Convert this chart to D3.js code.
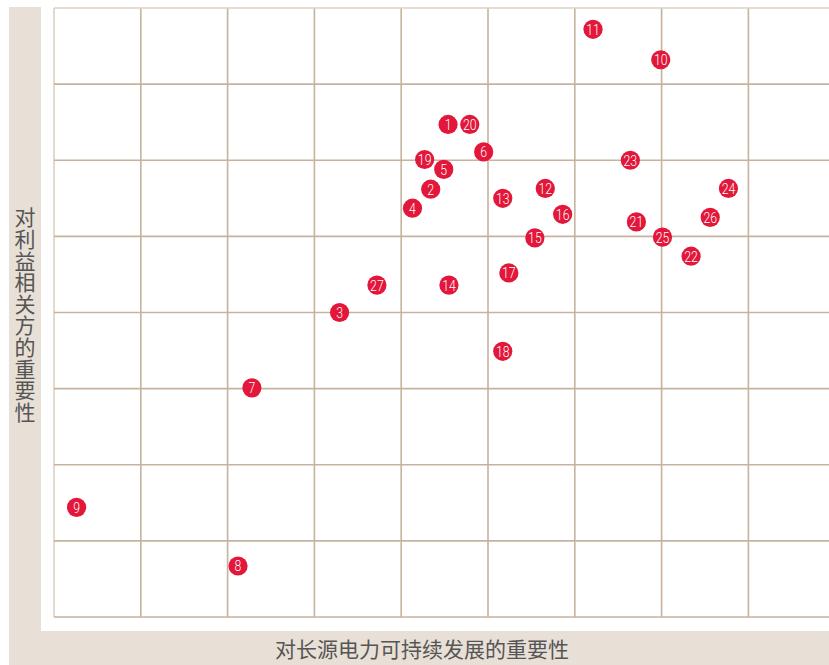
<!DOCTYPE html>
<html>
<head>
<meta charset="utf-8">
<script src="https://cdn.jsdelivr.net/npm/d3@7"></script>
<style>
  html, body { margin: 0; padding: 0; background: #fff; }
  #chart-container svg { display: block; }
</style>
</head>
<body>
<div id="chart-container"></div>
<script>
// stakeholder ids and their scores (column / row units of the grid)
const ids = [1, 2, 3, 4, 5, 6, 7, 8, 9, 10, 11, 12, 13, 14, 15, 16, 17, 18, 19, 20, 21, 22, 23, 24, 25, 26, 27]
const xValues = [4.54, 4.34, 3.29, 4.13, 4.49, 4.95, 2.28, 2.12, 0.26, 6.99, 6.21, 5.66, 5.17, 4.55, 5.54, 5.86, 5.24, 5.17, 4.27, 4.79, 6.71, 7.34, 6.64, 7.77, 7.01, 7.56, 3.72]
const yValues = [6.47, 5.62, 4.00, 5.37, 5.88, 6.11, 3.01, 0.67, 1.44, 7.32, 7.72, 5.63, 5.50, 4.36, 4.98, 5.29, 4.52, 3.49, 6.01, 6.47, 5.19, 4.74, 6.00, 5.63, 4.99, 5.25, 4.36]
const xTicks = [0, 1, 2, 3, 4, 5, 6, 7, 8, 9]
const yTicks = [0, 1, 2, 3, 4, 5, 6, 7, 8]
const xTitle = '对长源电力可持续发展的重要性'
const yTitle = '对利益相关方的重要性'

const data = ids.map((id, i) => ({ id: id, x: xValues[i], y: yValues[i] }))

const drawChart = (w, h) => {
  const svg = d3.select('#chart-container')
    .append('svg')
    .attr('width', w)
    .attr('height', h)

  // beige L-shaped frame
  svg.append('rect')
    .attr('x', 9).attr('y', 7)
    .attr('width', w - 9).attr('height', h - 7)
    .attr('fill', '#e8dfd6')
  svg.append('rect')
    .attr('x', 41).attr('y', 7)
    .attr('width', w - 41).attr('height', 624)
    .attr('fill', '#fff')

  const xScale = d3.scaleLinear().domain([0, 9]).range([54, 835.2])
  const yScale = d3.scaleLinear().domain([0, 8]).range([617, 8])

  const grid = svg.append('g')
  grid.selectAll('line.v')
    .data(xTicks)
    .enter()
    .append('line')
    .attr('x1', d => xScale(d)).attr('x2', d => xScale(d))
    .attr('y1', yScale(8)).attr('y2', yScale(0))
    .attr('stroke', d => d === 0 ? '#ddd0c3' : '#c6b29d')
    .attr('stroke-width', 1.6)

  grid.selectAll('line.h')
    .data(yTicks)
    .enter()
    .append('line')
    .attr('x1', xScale(0)).attr('x2', w)
    .attr('y1', d => yScale(d)).attr('y2', d => yScale(d))
    .attr('stroke', d => d === 8 ? '#ddd0c3' : '#c6b29d')
    .attr('stroke-width', 1.6)

  // points
  const pts = svg.selectAll('g.pt')
    .data(data)
    .enter()
    .append('g')
    .attr('class', 'pt')
    .attr('transform', d => `translate(${xScale(d.x)}, ${yScale(d.y)})`)

  pts.append('circle')
    .attr('r', 9.6)
    .attr('fill', '#e2173a')

  pts.append('text')
    .attr('text-anchor', 'middle')
    .attr('dy', '0.36em')
    .attr('transform', 'scale(0.82, 1)')
    .attr('fill', '#fff')
    .style('font-family', 'Roboto, sans-serif')
    .style('font-weight', '300')
    .style('font-size', '15px')
    .text(d => d.id)

  // axis titles
  svg.append('text')
    .attr('x', 422)
    .attr('y', 657)
    .attr('text-anchor', 'middle')
    .attr('fill', '#555')
    .style('font-family', '"Noto Sans CJK SC", sans-serif')
    .style('font-size', '21px')
    .text(xTitle)

  svg.append('text')
    .attr('x', 25)
    .attr('y', 207)
    .style('writing-mode', 'vertical-rl')
    .style('letter-spacing', '0.6px')
    .attr('fill', '#555')
    .style('font-family', '"Noto Sans CJK SC", sans-serif')
    .style('font-size', '21px')
    .text(yTitle)
}

drawChart(829, 665)
</script>
</body>
</html>
